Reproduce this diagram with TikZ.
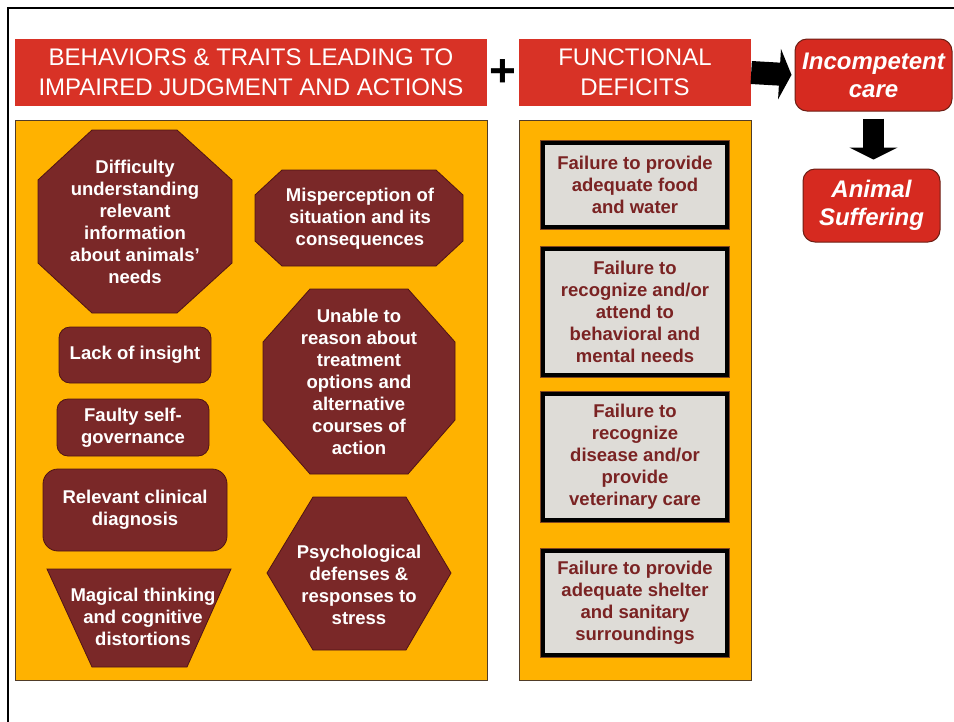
\documentclass[tikz,border=0pt]{standalone}
\usepackage{fontspec}
\setmainfont{Liberation Sans}
\usetikzlibrary{arrows.meta}
\definecolor{hdrred}{RGB}{216,50,38}
\definecolor{panelorange}{RGB}{255,178,0}
\definecolor{panelline}{RGB}{80,60,40}
\definecolor{maroon}{RGB}{122,40,40}
\definecolor{maroonline}{RGB}{80,20,20}
\definecolor{boxgrey}{RGB}{222,220,215}
\definecolor{framebrown}{RGB}{130,70,30}
\definecolor{maroontext}{RGB}{122,35,35}
\definecolor{resultred}{RGB}{214,42,32}
\definecolor{resultline}{RGB}{110,30,20}

\begin{document}
\begin{tikzpicture}[
            x=1pt, y=-1pt,
            every node/.style={text centered, align=center, inner sep=0pt},
            header/.style={rectangle, fill=hdrred, text=white, minimum height=67pt, font=\fontsize{24}{30}\selectfont},
            panel/.style={rectangle, draw=panelline, fill=panelorange, line width=0.8pt, minimum height=560pt},
            brownshape/.style={draw=maroonline, fill=maroon, line width=0.8pt},
            shapetext/.style={text=white, font=\bfseries\fontsize{18.5}{22}\selectfont},
            roundbox/.style={rectangle, rounded corners=11pt, draw=maroonline, fill=maroon, line width=0.8pt, shapetext},
            failbox/.style={rectangle, fill=boxgrey, draw=black, line width=4pt, preaction={draw=framebrown, line width=6pt}, minimum width=184pt, text=maroontext, font=\bfseries\fontsize{18.5}{22}\selectfont},
            result/.style={rectangle, rounded corners=12pt, fill=resultred, draw=resultline, line width=1pt, text=white, font=\bfseries\itshape\fontsize{24}{28}\selectfont},
            blockarrow/.style={line width=23pt, -{Triangle[length=12pt,width=50pt]}}
        ]
            \useasboundingbox (0,0) rectangle (954,721);
            \fill[white] (0,0) rectangle (954,721);
            \draw[line width=2pt] (8,722) -- (8,8) -- (955,8);

            % Headers
            \node (traits) [header, minimum width=472pt] at (251,72.5) {BEHAVIORS \& TRAITS LEADING TO\\IMPAIRED JUDGMENT AND ACTIONS};
            \node (plus) at (503,73) {\fontsize{46}{46}\bfseries +};
            \node (deficits) [header, minimum width=232pt] at (635,72.5) {FUNCTIONAL\\DEFICITS};
            \node (care) [result, minimum width=157pt, minimum height=72pt] at (873.5,75) {Incompetent\\care};
            \node (suffer) [result, minimum width=137pt, minimum height=73pt] at (871.5,205.5) {Animal\\Suffering};

            % Panels
            \node (leftpanel) [panel, minimum width=472pt] at (251,400) {};
            \node (rightpanel) [panel, minimum width=232pt] at (635,400) {};

            % Shapes of the left panel
            \path[brownshape] (92,130) -- (177,130) -- (232,180) -- (232,263) -- (177,313) -- (92,313) -- (38,263) -- (38,180) -- cycle;
            \path[brownshape] (282,170) -- (436,170) -- (463,195) -- (463,241) -- (436,266) -- (282,266) -- (255,241) -- (255,195) -- cycle;
            \path[brownshape] (310,289) -- (408,289) -- (455,342) -- (455,420) -- (408,474) -- (310,474) -- (263,420) -- (263,342) -- cycle;
            \path[brownshape] (313,497) -- (406,497) -- (451,573) -- (406,650) -- (313,650) -- (267,573) -- cycle;
            \path[brownshape] (47,569) -- (231,569) -- (187,667) -- (92,667) -- cycle;

            % Traits
            \node (difficulty) [shapetext] at (135,222) {Difficulty\\understanding\\relevant\\information\\about animals’\\needs};
            \node (misperception) [shapetext] at (360,219) {Misperception of\\situation and its\\consequences};
            \node (insight) [roundbox, minimum width=152pt, minimum height=56pt] at (135,355) {Lack of insight};
            \node (unable) [shapetext] at (359,381.5) {Unable to\\reason about\\treatment\\options and\\alternative\\courses of\\action};
            \node (faulty) [roundbox, minimum width=152pt, minimum height=57pt] at (133,427.5) {Faulty self-\\governance};
            \node (diagnosis) [roundbox, rounded corners=15pt, minimum width=184pt, minimum height=82pt] at (135,510) {Relevant clinical\\diagnosis};
            \node (psych) [shapetext] at (359,585) {Psychological\\defenses \&\\responses to\\stress};
            \node (magical) [shapetext] at (143,617) {Magical thinking\\and cognitive\\distortions};

            % Deficits
            \node (food) [failbox, minimum height=84pt] at (635,185) {Failure to provide\\adequate food\\and water};
            \node (mental) [failbox, minimum height=126pt] at (635,312) {Failure to\\recognize and/or\\attend to\\behavioral and\\mental needs};
            \node (vet) [failbox, minimum height=126pt] at (635,457) {Failure to\\recognize\\disease and/or\\provide\\veterinary care};
            \node (shelter) [failbox, minimum height=104pt] at (635,603) {Failure to provide\\adequate shelter\\and sanitary\\surroundings};

            % Arrows
            \draw [blockarrow, shorten >=3pt] (deficits.east) -- (care.west);
            \draw [blockarrow, line width=21pt, -{Triangle[length=12pt,width=48pt]}, shorten <=7pt, shorten >=9pt] (care.south) -- (care.south |- suffer.north);
        \end{tikzpicture}
\end{document}
